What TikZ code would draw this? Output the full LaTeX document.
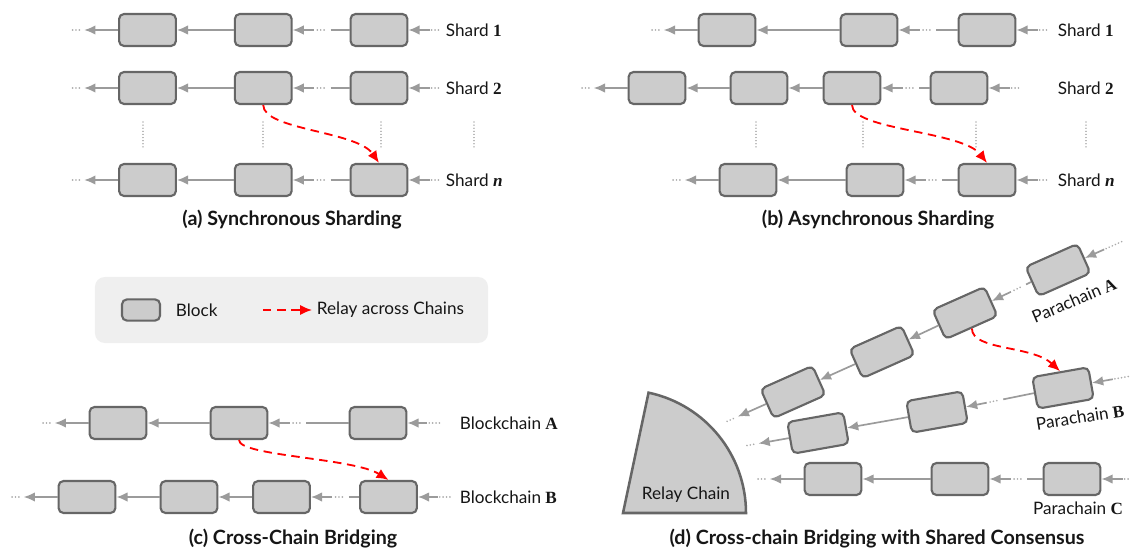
\documentclass[tikz,border=0pt]{standalone}
\usepackage{fontspec}
\setmainfont{Lato}
\newfontfamily\idfont{Liberation Serif}
\usetikzlibrary{arrows.meta,positioning,calc}

\definecolor{blockGray}{HTML}{CCCCCC}
\definecolor{blockEdge}{HTML}{666666}
\definecolor{linkGray}{HTML}{9B9B9B}
\definecolor{dotGray}{HTML}{ABABAB}
\definecolor{legendGray}{HTML}{EFEFEF}
\definecolor{relayRed}{HTML}{FF0000}
\definecolor{inkBlack}{HTML}{161616}

\begin{document}
\begin{tikzpicture}[
  x=0.025cm,y=0.025cm,
  block/.style={
    draw=blockEdge,
    fill=blockGray,
    line width=1.5pt,
    rounded corners=3.5pt,
    minimum width=1.42cm,
    minimum height=0.8cm
  },
  link/.style={-{Latex[length=2.8mm,width=2.4mm]},line width=1.2pt,linkGray},
  linkline/.style={line width=1.2pt,linkGray},
  ellip/.style={line width=1.3pt,dotGray,line cap=round,dash pattern=on 0.01pt off 2.4pt},
  vgap/.style={line width=1pt,dotGray,line cap=round,dash pattern=on 0.01pt off 2.2pt},
  relay/.style={-{Latex[length=3mm,width=2.6mm]},line width=1.3pt,relayRed,dash pattern=on 6pt off 4pt},
  chainlabel/.style={font=\fontsize{12.2}{14}\selectfont,text=inkBlack},
  caption/.style={font=\fontsize{14}{16}\selectfont\bfseries,text=inkBlack}
]
  \useasboundingbox (0,0) rectangle (1130,-550);

  % (a) synchronous sharding
  \node[block] (s1a) at (147.5,-30) {};
  \node[block,right=1.42cm of s1a] (s1b) {};
  \node[block,right=1.42cm of s1b] (s1c) {};
  \node[block] (s2a) at (147.5,-88) {};
  \node[block,right=1.42cm of s2a] (s2b) {};
  \node[block,right=1.42cm of s2b] (s2c) {};
  \node[block] (sna) at (147.5,-180) {};
  \node[block,right=1.42cm of sna] (snb) {};
  \node[block,right=1.42cm of snb] (snc) {};
  \node[chainlabel,anchor=west] (s1label) at (441,-30) {Shard {\idfont\bfseries 1}};
  \node[chainlabel,anchor=west] (s2label) at (441,-88) {Shard {\idfont\bfseries 2}};
  \node[chainlabel,anchor=west] (snlabel) at (441,-180) {Shard {\idfont\bfseries\itshape n}};

  \draw[link] (s1b) -- (s1a);
  \draw[link] ($(s1b.east)!15pt!(s1c.west)$) -- (s1b.east);
  \draw[ellip] ($(s1b.east)!17.5pt!(s1c.west)$) -- ($(s1b.east)!24pt!(s1c.west)$);
  \draw[linkline] ($(s1b.east)!27pt!(s1c.west)$) -- (s1c.west);
  \draw[link] (s2b) -- (s2a);
  \draw[link] ($(s2b.east)!15pt!(s2c.west)$) -- (s2b.east);
  \draw[ellip] ($(s2b.east)!17.5pt!(s2c.west)$) -- ($(s2b.east)!24pt!(s2c.west)$);
  \draw[linkline] ($(s2b.east)!27pt!(s2c.west)$) -- (s2c.west);
  \draw[link] (snb) -- (sna);
  \draw[link] ($(snb.east)!15pt!(snc.west)$) -- (snb.east);
  \draw[ellip] ($(snb.east)!17.5pt!(snc.west)$) -- ($(snb.east)!24pt!(snc.west)$);
  \draw[linkline] ($(snb.east)!27pt!(snc.west)$) -- (snc.west);

  \coordinate[left=24pt of s1a] (s1old);
  \coordinate[left=24pt of s2a] (s2old);
  \coordinate[left=24pt of sna] (snold);
  \coordinate[right=15pt of s1c] (s1new);
  \coordinate[right=15pt of s2c] (s2new);
  \coordinate[right=15pt of snc] (snnew);
  \draw[link] (s1a) -- (s1old);
  \draw[ellip] ([xshift=-3.5pt]s1old) -- ++(-7pt,0);
  \draw[link] (s2a) -- (s2old);
  \draw[ellip] ([xshift=-3.5pt]s2old) -- ++(-7pt,0);
  \draw[link] (sna) -- (snold);
  \draw[ellip] ([xshift=-3.5pt]snold) -- ++(-7pt,0);
  \draw[link] (s1new) -- (s1c);
  \draw[ellip] ([xshift=1.5pt]s1new) -- ++(7pt,0);
  \draw[link] (s2new) -- (s2c);
  \draw[ellip] ([xshift=1.5pt]s2new) -- ++(7pt,0);
  \draw[link] (snnew) -- (snc);
  \draw[ellip] ([xshift=1.5pt]snnew) -- ++(7pt,0);

  \draw[vgap] (143,-122) -- ++(0,-25);
  \draw[vgap] (263,-122) -- ++(0,-25);
  \draw[vgap] (381,-122) -- ++(0,-25);
  \draw[vgap] (474,-122) -- ++(0,-25);

  \draw[relay] (s2b.south) .. controls +(0,-25) and +(-22,32) .. (snc.north);
  \node[caption] (capa) at (292,-220) {(a) Synchronous Sharding};

  % (b) asynchronous sharding
  \node[block] (t1a) at (727,-30) {};
  \node[block] (t1b) at (869,-30) {};
  \node[block] (t1c) at (987,-30) {};
  \node[block] (t2a) at (657,-88) {};
  \node[block] (t2b) at (759,-88) {};
  \node[block] (t2c) at (852,-88) {};
  \node[block] (t2d) at (959,-88) {};
  \node[block] (tna) at (748,-180) {};
  \node[block] (tnb) at (875,-180) {};
  \node[block] (tnc) at (987,-180) {};
  \node[chainlabel,anchor=west] (t1label) at (1053,-30) {Shard {\idfont\bfseries 1}};
  \node[chainlabel,anchor=west] (t2label) at (1053,-88) {Shard {\idfont\bfseries 2}};
  \node[chainlabel,anchor=west] (tnlabel) at (1053,-180) {Shard {\idfont\bfseries\itshape n}};

  \draw[link] (t1b) -- (t1a);
  \draw[link] ($(t1b.east)!15pt!(t1c.west)$) -- (t1b.east);
  \draw[ellip] ($(t1b.east)!17.5pt!(t1c.west)$) -- ($(t1b.east)!24pt!(t1c.west)$);
  \draw[linkline] ($(t1b.east)!27pt!(t1c.west)$) -- (t1c.west);
  \draw[link] (t2b) -- (t2a);
  \draw[link] (t2c) -- (t2b);
  \draw[link] ($(t2c.east)!15pt!(t2d.west)$) -- (t2c.east);
  \draw[ellip] ($(t2c.east)!17.5pt!(t2d.west)$) -- ($(t2c.east)!24pt!(t2d.west)$);
  \draw[linkline] ($(t2c.east)!27pt!(t2d.west)$) -- (t2d.west);
  \draw[link] (tnb) -- (tna);
  \draw[link] ($(tnb.east)!15pt!(tnc.west)$) -- (tnb.east);
  \draw[ellip] ($(tnb.east)!17.5pt!(tnc.west)$) -- ($(tnb.east)!24pt!(tnc.west)$);
  \draw[linkline] ($(tnb.east)!27pt!(tnc.west)$) -- (tnc.west);

  \coordinate[left=24pt of t1a] (t1old);
  \coordinate[left=24pt of t2a] (t2old);
  \coordinate[left=24pt of tna] (tnold);
  \coordinate[right=15pt of t1c] (t1new);
  \coordinate[right=15pt of t2d] (t2new);
  \coordinate[right=15pt of tnc] (tnnew);
  \draw[link] (t1a) -- (t1old);
  \draw[ellip] ([xshift=-3.5pt]t1old) -- ++(-7pt,0);
  \draw[link] (t2a) -- (t2old);
  \draw[ellip] ([xshift=-3.5pt]t2old) -- ++(-7pt,0);
  \draw[link] (tna) -- (tnold);
  \draw[ellip] ([xshift=-3.5pt]tnold) -- ++(-7pt,0);
  \draw[link] (t1new) -- (t1c);
  \draw[ellip] ([xshift=1.5pt]t1new) -- ++(7pt,0);
  \draw[link] (t2new) -- (t2d);
  \draw[ellip] ([xshift=1.5pt]t2new) -- ++(7pt,0);
  \draw[link] (tnnew) -- (tnc);
  \draw[ellip] ([xshift=1.5pt]tnnew) -- ++(7pt,0);

  \draw[vgap] (756,-122) -- ++(0,-25);
  \draw[vgap] (863,-122) -- ++(0,-25);
  \draw[vgap] (976,-122) -- ++(0,-25);
  \draw[vgap] (1086,-122) -- ++(0,-25);

  \draw[relay] (t2c.south) .. controls +(0,-25) and +(-25,32) .. (tnc.north);
  \node[caption] (capb) at (878,-220) {(b) Asynchronous Sharding};

  % legend
  \node[fill=legendGray,rounded corners=7pt,minimum width=9.825cm,minimum height=1.65cm] (legend) at (291.5,-310) {};
  \node[block,minimum width=0.95cm,minimum height=0.53cm] (legblock) at (141,-310) {};
  \node[chainlabel,anchor=west] (legblocktext) at (171,-310) {Block};
  \coordinate (legrelay) at (263,-310);
  \node[chainlabel,anchor=west] (legrelaytext) at (312,-310) {Relay across Chains};
  \draw[relay] (legrelay) -- (legrelaytext.west);

  % (c) cross-chain bridging
  \node[block] (ca1) at (118,-423) {};
  \node[block] (ca2) at (239,-423) {};
  \node[block] (ca3) at (378,-423) {};
  \node[block] (cb1) at (87,-497) {};
  \node[block] (cb2) at (189,-497) {};
  \node[block] (cb3) at (281.5,-497) {};
  \node[block] (cb4) at (388.5,-497) {};
  \node[chainlabel,anchor=west] (calabel) at (455,-423) {Blockchain {\idfont\bfseries A}};
  \node[chainlabel,anchor=west] (cblabel) at (455,-497) {Blockchain {\idfont\bfseries B}};

  \draw[link] (ca2) -- (ca1);
  \draw[link] ($(ca2.east)!15pt!(ca3.west)$) -- (ca2.east);
  \draw[ellip] ($(ca2.east)!17.5pt!(ca3.west)$) -- ($(ca2.east)!24pt!(ca3.west)$);
  \draw[linkline] ($(ca2.east)!27pt!(ca3.west)$) -- (ca3.west);
  \draw[link] (cb2) -- (cb1);
  \draw[link] (cb3) -- (cb2);
  \draw[link] ($(cb3.east)!15pt!(cb4.west)$) -- (cb3.east);
  \draw[ellip] ($(cb3.east)!17.5pt!(cb4.west)$) -- ($(cb3.east)!24pt!(cb4.west)$);
  \draw[linkline] ($(cb3.east)!27pt!(cb4.west)$) -- (cb4.west);

  \coordinate[left=24pt of ca1] (caold);
  \coordinate[left=24pt of cb1] (cbold);
  \coordinate[right=14pt of ca3] (canew);
  \coordinate[right=14pt of cb4] (cbnew);
  \draw[link] (ca1) -- (caold);
  \draw[ellip] ([xshift=-3.5pt]caold) -- ++(-7pt,0);
  \draw[link] (cb1) -- (cbold);
  \draw[ellip] ([xshift=-3.5pt]cbold) -- ++(-7pt,0);
  \draw[link] (canew) -- (ca3);
  \draw[ellip] ([xshift=1.5pt]canew) -- ++(8pt,0);
  \draw[link] (cbnew) -- (cb4);
  \draw[ellip] ([xshift=1.5pt]cbnew) -- ++(8pt,0);

  \draw[relay] (ca2.south) .. controls +(0,-16) and +(-35,22) .. (cb4.north);
  \node[caption] (capc) at (293,-539) {(c) Cross-Chain Bridging};

  % (d) parachains around the relay chain
  \filldraw[draw=blockEdge,fill=blockGray,line width=1.8pt,line join=miter]
    (623,-513) -- (746,-513) arc[start angle=0,end angle=78,radius=3.075cm] -- cycle;
  \node[chainlabel] (relaychain) at (686,-495) {Relay Chain};

  \node[block,rotate=24] (pa1) at (793,-392) {};
  \node[block,rotate=24] (pa2) at (882,-352) {};
  \node[block,rotate=24] (pa3) at (965,-313) {};
  \node[block,rotate=24] (pa4) at (1058,-270) {};
  \node[block,rotate=10] (pb1) at (818,-433) {};
  \node[block,rotate=10] (pb2) at (937,-412) {};
  \node[block,rotate=10] (pb3) at (1063,-388) {};
  \node[block] (pc1) at (833,-479) {};
  \node[block] (pc2) at (960,-479) {};
  \node[block] (pc3) at (1072,-479) {};
  \node[chainlabel,rotate=23] (palabel) at (1074,-300) {Parachain {\idfont\bfseries A}};
  \node[chainlabel,rotate=9] (pblabel) at (1080,-417) {Parachain {\idfont\bfseries B}};
  \node[chainlabel] (pclabel) at (1078,-508) {Parachain {\idfont\bfseries C}};

  \draw[link] (pa2) -- (pa1);
  \draw[link] (pa3) -- (pa2);
  \draw[link] ($(pa3.east)!15pt!(pa4.west)$) -- (pa3.east);
  \draw[ellip] ($(pa3.east)!17.5pt!(pa4.west)$) -- ($(pa3.east)!24pt!(pa4.west)$);
  \draw[linkline] ($(pa3.east)!27pt!(pa4.west)$) -- (pa4.west);
  \draw[link] (pb2) -- (pb1);
  \draw[link] ($(pb2.east)!15pt!(pb3.west)$) -- (pb2.east);
  \draw[ellip] ($(pb2.east)!17.5pt!(pb3.west)$) -- ($(pb2.east)!24pt!(pb3.west)$);
  \draw[linkline] ($(pb2.east)!27pt!(pb3.west)$) -- (pb3.west);
  \draw[link] (pc2) -- (pc1);
  \draw[link] ($(pc2.east)!15pt!(pc3.west)$) -- (pc2.east);
  \draw[ellip] ($(pc2.east)!17.5pt!(pc3.west)$) -- ($(pc2.east)!24pt!(pc3.west)$);
  \draw[linkline] ($(pc2.east)!27pt!(pc3.west)$) -- (pc3.west);

  \coordinate (paold) at ([shift={(204:22pt)}]pa1.west);
  \coordinate (pbold) at ([shift={(190:22pt)}]pb1.west);
  \coordinate (pcold) at ([shift={(180:24pt)}]pc1.west);
  \coordinate (panew) at ([shift={(24:15pt)}]pa4.east);
  \coordinate (pbnew) at ([shift={(10:15pt)}]pb3.east);
  \coordinate (pcnew) at ([shift={(0:15pt)}]pc3.east);
  \draw[link] (pa1) -- (paold);
  \draw[ellip] ([shift={(204:3.5pt)}]paold) -- ([shift={(204:10.5pt)}]paold);
  \draw[link] (pb1) -- (pbold);
  \draw[ellip] ([shift={(190:3.5pt)}]pbold) -- ([shift={(190:10.5pt)}]pbold);
  \draw[link] (pc1) -- (pcold);
  \draw[ellip] ([shift={(180:3.5pt)}]pcold) -- ([shift={(180:10.5pt)}]pcold);
  \draw[link] (panew) -- (pa4);
  \draw[ellip] ([shift={(24:1.5pt)}]panew) -- ([shift={(24:14pt)}]panew);
  \draw[link] (pbnew) -- (pb3);
  \draw[ellip] ([shift={(10:1.5pt)}]pbnew) -- ([shift={(10:14pt)}]pbnew);
  \draw[link] (pcnew) -- (pc3);
  \draw[ellip] ([shift={(0:1.5pt)}]pcnew) -- ([shift={(0:8pt)}]pcnew);

  \draw[relay] (pa3.south) .. controls +(0,-22) and +(-28,26) .. (pb3.north);
  \node[caption] (capd) at (877,-539) {(d) Cross-chain Bridging with Shared Consensus};
\end{tikzpicture}
\end{document}
